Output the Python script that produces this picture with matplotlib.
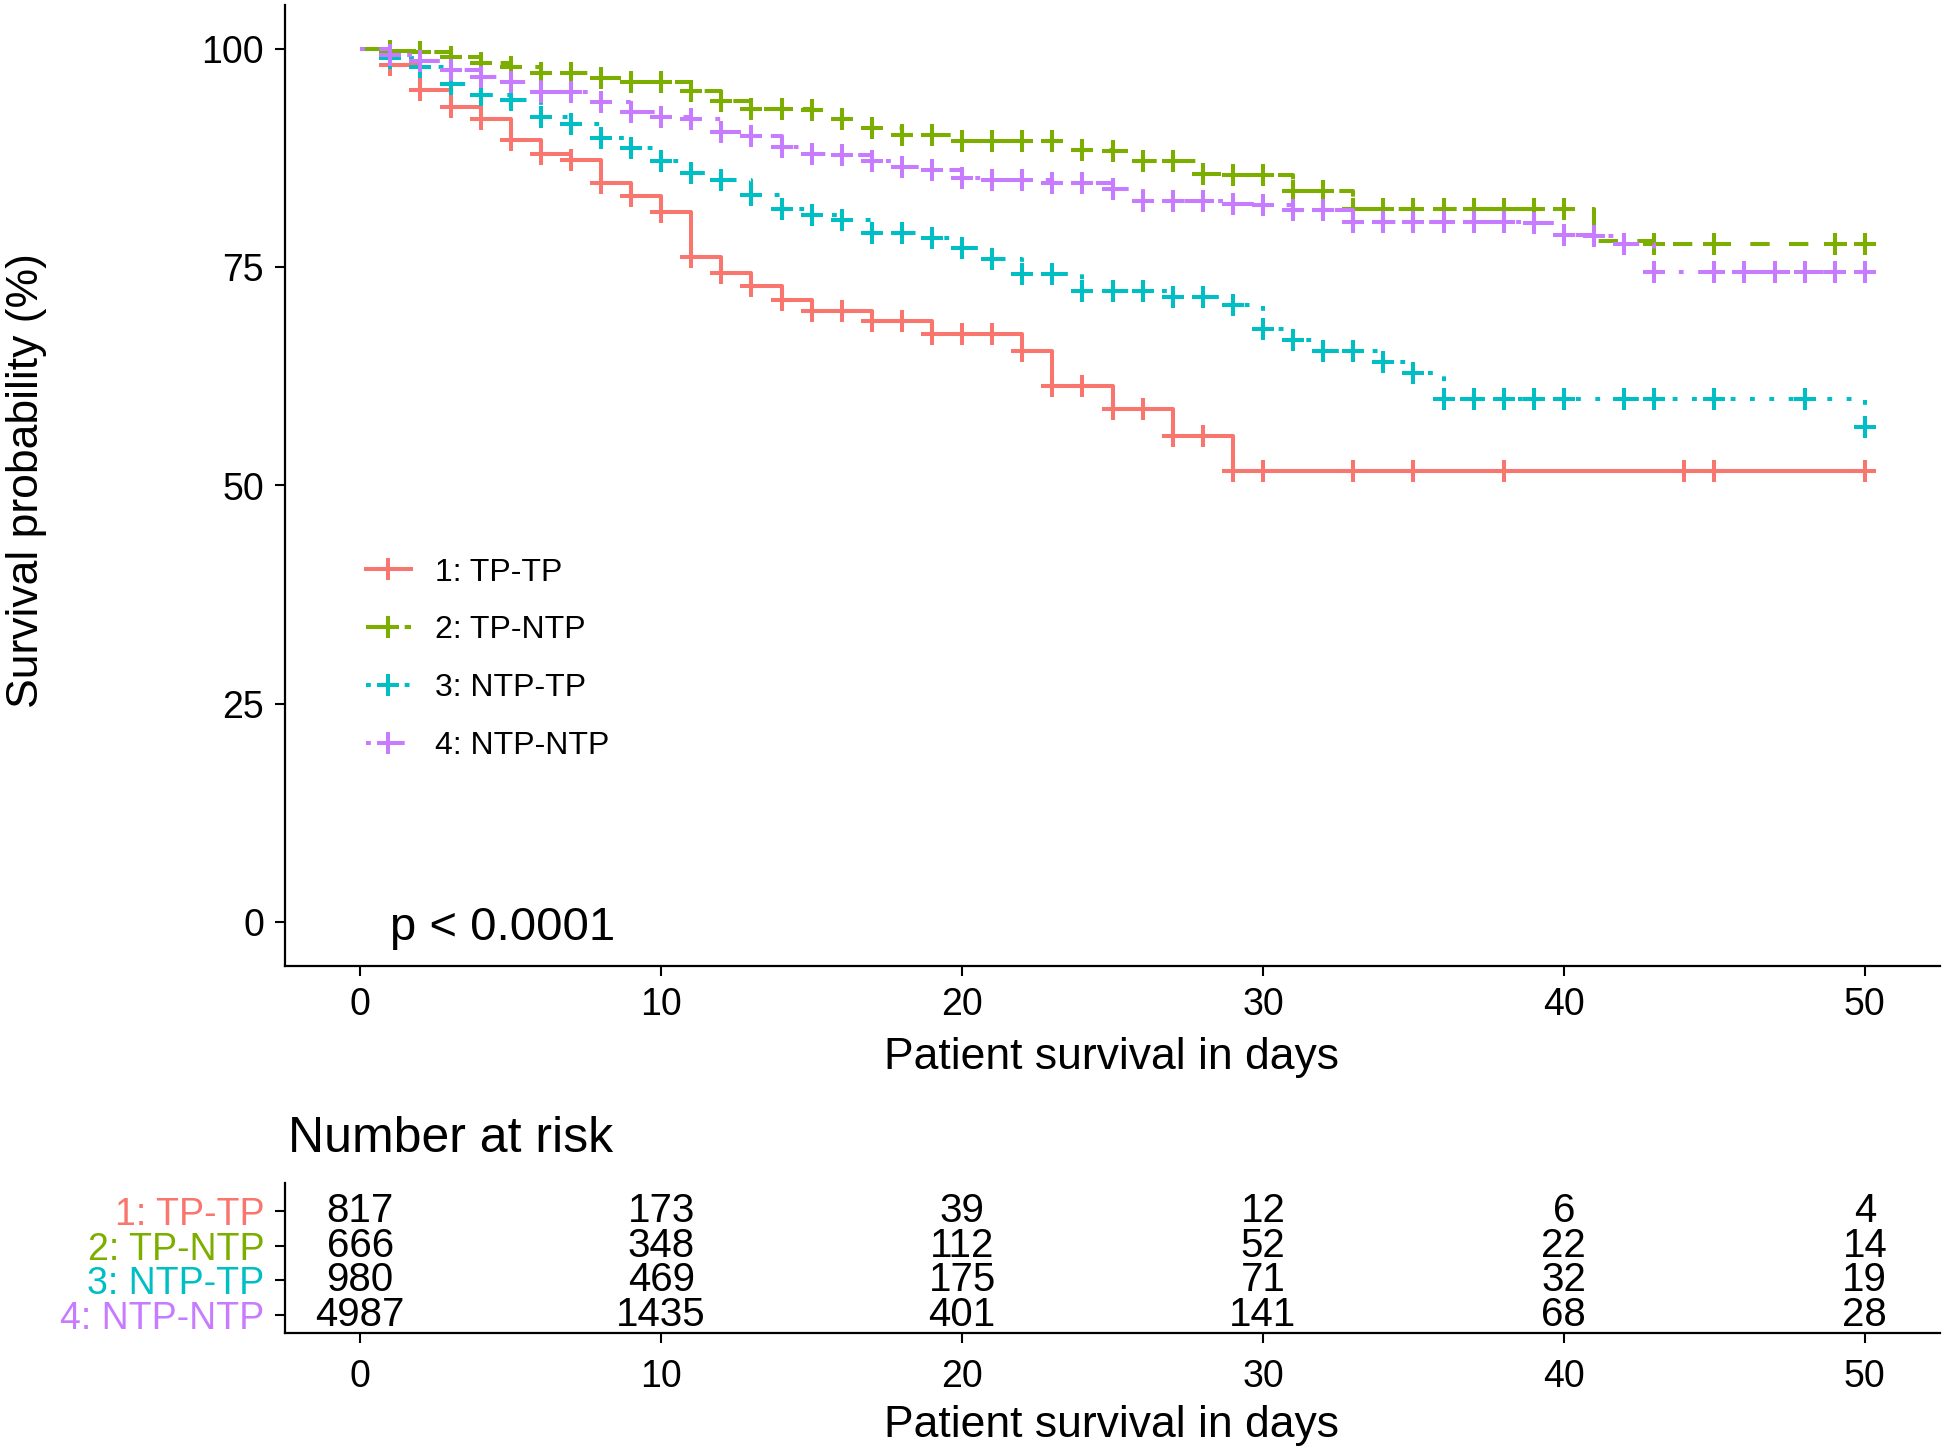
import matplotlib
matplotlib.use("Agg")
import matplotlib.pyplot as plt
from matplotlib.lines import Line2D

plt.rcParams['font.family'] = ['Liberation Sans', 'DejaVu Sans']

# ---- data ----
days = [0, 1, 2, 3, 4, 5, 6, 7, 8, 9,
        10, 11, 12, 13, 14, 15, 16, 17, 18, 19,
        20, 21, 22, 23, 24, 25, 26, 27, 28, 29,
        30, 31, 32, 33, 34, 35, 36, 37, 38, 39,
        40, 41, 42, 43, 44, 45, 46, 47, 48, 49, 50]

surv_tp_tp = [100, 98.1, 95.3, 93.3, 92.0, 89.6, 87.9, 87.3, 84.6, 83.1,
              81.3, 76.1, 74.3, 72.8, 71.2, 70.0, 70.0, 68.8, 68.8, 67.3,
              67.3, 67.3, 65.4, 61.4, 61.4, 58.8, 58.8, 55.7, 55.7, 51.7,
              51.7, 51.7, 51.7, 51.7, 51.7, 51.7, 51.7, 51.7, 51.7, 51.7,
              51.7, 51.7, 51.7, 51.7, 51.7, 51.7, 51.7, 51.7, 51.7, 51.7, 51.7]
surv_tp_ntp = [100, 99.7, 99.6, 99.1, 98.4, 97.9, 97.2, 97.2, 96.6, 96.2,
               96.2, 95.1, 94.0, 93.1, 93.1, 93.0, 92.0, 90.9, 90.1, 90.1,
               89.4, 89.4, 89.4, 89.4, 88.4, 88.3, 87.1, 87.1, 85.6, 85.5,
               85.5, 83.7, 83.7, 81.7, 81.7, 81.7, 81.7, 81.7, 81.7, 81.7,
               81.7, 78.0, 78.0, 77.7, 77.7, 77.7, 77.7, 77.7, 77.7, 77.7, 77.7]
surv_ntp_tp = [100, 98.9, 97.9, 96.0, 94.7, 94.1, 92.2, 91.4, 89.8, 88.6,
               87.1, 85.8, 85.0, 83.3, 81.6, 81.0, 80.4, 78.9, 78.9, 78.3,
               77.2, 75.9, 74.2, 74.2, 72.3, 72.3, 72.3, 71.6, 71.6, 70.7,
               67.9, 66.6, 65.4, 65.4, 64.1, 62.9, 59.9, 59.9, 59.9, 59.9,
               59.9, 59.9, 59.9, 59.9, 59.9, 59.9, 59.9, 59.9, 59.9, 59.9, 56.7]
surv_ntp_ntp = [100, 99.3, 98.6, 97.6, 96.8, 96.2, 95.0, 95.0, 93.9, 92.8,
                92.2, 91.9, 90.5, 90.0, 88.8, 88.0, 87.8, 87.1, 86.5, 86.1,
                85.2, 85.0, 85.0, 84.6, 84.6, 83.9, 82.6, 82.6, 82.6, 82.2,
                82.1, 81.5, 81.5, 80.2, 80.2, 80.2, 80.2, 80.2, 80.2, 80.1,
                78.7, 78.6, 77.6, 74.4, 74.4, 74.4, 74.4, 74.4, 74.4, 74.4, 74.4]

# censoring marks (days)
cens_tp_tp = [1, 2, 3, 4, 5, 6, 7, 8, 9, 10, 11, 12, 13, 14, 15, 16, 17, 18, 19, 20,
              21, 22, 23, 24, 25, 26, 27, 28, 29, 30, 33, 35, 38, 44, 45, 50]
cens_tp_ntp = [1, 2, 3, 4, 5, 6, 7, 8, 9, 10, 11, 12, 13, 14, 15, 16, 17, 18, 19, 20,
               21, 22, 23, 24, 25, 26, 27, 28, 29, 30, 31, 32, 33, 34, 35, 36, 37, 38,
               39, 40, 43, 45, 49, 50]
cens_ntp_tp = [1, 2, 3, 4, 5, 6, 7, 8, 9, 10, 11, 12, 13, 14, 15, 16, 17, 18, 19, 20,
               21, 22, 23, 24, 25, 26, 27, 28, 29, 30, 31, 32, 33, 34, 35, 36, 37, 38,
               39, 40, 42, 43, 45, 48, 50]
cens_ntp_ntp = [1, 2, 3, 4, 5, 6, 7, 8, 9, 10, 11, 12, 13, 14, 15, 16, 17, 18, 19, 20,
                21, 22, 23, 24, 25, 26, 27, 28, 29, 30, 31, 32, 33, 34, 35, 36, 37, 38,
                39, 40, 41, 42, 43, 45, 46, 47, 48, 49, 50]

strata = ["1: TP-TP", "2: TP-NTP", "3: NTP-TP", "4: NTP-NTP"]
colors = ["#F8766D", "#7CAE00", "#00BFC4", "#C77CFF"]
styles = ["-", (0, (4.8, 4.8)), (0, (1.2, 3.6)), (0, (1.2, 3.6, 4.8, 3.6))]

risk_times = [0, 10, 20, 30, 40, 50]
risk_tp_tp = [817, 173, 39, 12, 6, 4]
risk_tp_ntp = [666, 348, 112, 52, 22, 14]
risk_ntp_tp = [980, 469, 175, 71, 32, 19]
risk_ntp_ntp = [4987, 1435, 401, 141, 68, 28]

survs = [surv_tp_tp, surv_tp_ntp, surv_ntp_tp, surv_ntp_ntp]
censs = [cens_tp_tp, cens_tp_ntp, cens_ntp_tp, cens_ntp_ntp]
risks = [risk_tp_tp, risk_tp_ntp, risk_ntp_tp, risk_ntp_ntp]

W, H = 1946, 1454
fig = plt.figure(figsize=(W / 100, H / 100), dpi=100)

# main KM panel
ax = fig.add_axes([285 / W, 1 - 966 / H, 1655 / W, 961 / H])
lw = 2.9
for surv, cens, col, ls in zip(survs, censs, colors, styles):
    ax.step(days, surv, where="post", color=col, lw=lw, ls=ls,
            dash_capstyle="butt", solid_capstyle="butt")
    ax.plot(cens, [surv[days.index(d)] for d in cens], ls="none", marker="+",
            ms=16, mew=2.9, color=col)

ax.set_xlim(-2.5, 52.5)
ax.set_ylim(-5, 105)
ax.set_xticks([0, 10, 20, 30, 40, 50])
ax.set_yticks([0, 25, 50, 75, 100])
for s in ["top", "right"]:
    ax.spines[s].set_visible(False)
for s in ["left", "bottom"]:
    ax.spines[s].set_linewidth(1.6)
ax.tick_params(length=7, width=1.5, labelsize=27, pad=8, colors="black")

handles = [Line2D([], [], color=c, lw=lw, ls=ls, marker="+", ms=16, mew=2.9)
           for c, ls in zip(colors, styles)]
ax.legend(handles, strata, loc="upper left", bbox_to_anchor=(0.049, 0.425),
          frameon=False, fontsize=23, handlelength=1.4, handletextpad=0.75,
          labelspacing=0.87, borderpad=0, borderaxespad=0)

ax.text(1, -0.6, "p < 0.0001", fontsize=34, ha="left", va="center")

fig.text(27 / W, 1 - 481 / H, "Survival probability (%)", rotation=90,
         fontsize=32, ha="center", va="center")
fig.text(1112 / W, 1 - 1057 / H, "Patient survival in days",
         fontsize=32, ha="center", va="center")

# risk table
axr = fig.add_axes([285 / W, 1 - 1333 / H, 1655 / W, 150 / H])
for i, row in enumerate(risks):
    for t, n in zip(risk_times, row):
        axr.text(t, i, str(n), fontsize=29, ha="center", va="center")
axr.set_xlim(-2.5, 52.5)
axr.set_ylim(3.52, -0.81)
axr.set_xticks(risk_times)
axr.set_yticks([0, 1, 2, 3])
axr.set_yticklabels(strata)
for lab, c in zip(axr.get_yticklabels(), colors):
    lab.set_color(c)
for s in ["top", "right"]:
    axr.spines[s].set_visible(False)
for s in ["left", "bottom"]:
    axr.spines[s].set_linewidth(1.6)
axr.tick_params(axis="x", length=7, width=1.5, labelsize=27, pad=12)
axr.tick_params(axis="y", length=7, width=1.5, labelsize=27, pad=8)

fig.text(288 / W, 1 - 1139 / H, "Number at risk", fontsize=36,
         ha="left", va="center")
fig.text(1112 / W, 1 - 1425 / H, "Patient survival in days",
         fontsize=32, ha="center", va="center")

fig.savefig("out.png", dpi=100)
